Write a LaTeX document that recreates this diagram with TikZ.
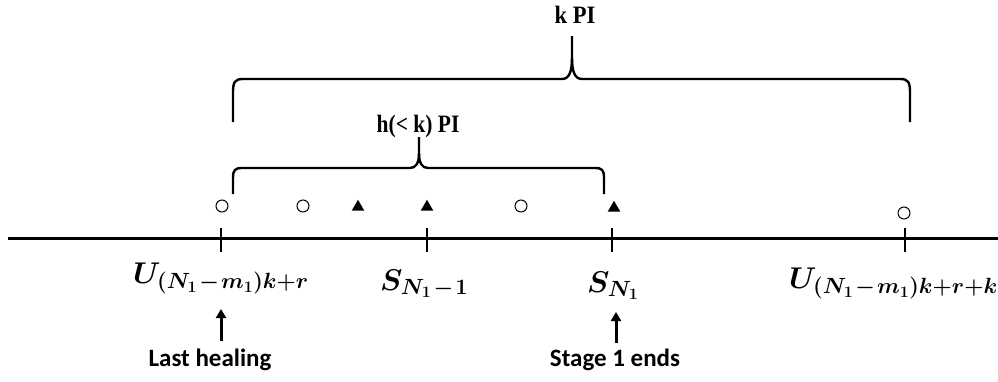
\RequirePackage{fix-cm}
\documentclass[tikz,border=0pt]{standalone}
\usepackage{fontspec}
\usepackage{amsmath}
\usepackage{graphicx}
\usetikzlibrary{shapes.geometric,arrows.meta}
\newfontfamily\calfont{Carlito}
\newfontfamily\timesfont{Liberation Serif}
\DeclareMathSizes{30}{30}{22}{16}
\newcommand{\smin}{\mkern1.5mu{-}\mkern1.5mu}
\begin{document}
\begin{tikzpicture}[x=1pt,y=-1pt,
  axisline/.style={line width=3pt},
  tickline/.style={line width=2.6pt},
  bracepath/.style={line width=2.4pt, line join=round},
  circmark/.style={circle, draw, line width=1pt, minimum size=12pt, inner sep=0pt},
  trimark/.style={regular polygon, regular polygon sides=3, fill=black, inner sep=0pt, minimum size=14.5pt},
  mathlabel/.style={inner sep=0pt, anchor=base west, font=\fontsize{30}{36}\selectfont\boldmath},
  notelabel/.style={inner sep=0pt, anchor=base, font=\calfont\bfseries\fontsize{25}{30}\selectfont},
  bracelabel/.style={inner sep=0pt, font=\timesfont\bfseries\fontsize{25}{30}\selectfont},
  uparrow/.style={line width=3pt, -{Triangle[length=9pt,width=10pt]}}
]
\useasboundingbox (0,0) rectangle (998,381);

% axis
\coordinate (axL) at (8,238);
\coordinate (axR) at (998,238);
\draw[axisline] (axL) -- (axR);

% ticks
\coordinate (t1) at (221,238);
\coordinate (t2) at (427,238);
\coordinate (t3) at (612,238);
\coordinate (t4) at (905,238);
\foreach \t in {t1,t2,t3,t4}
  \draw[tickline] (\t) ++(0,-10) -- ++(0,24);

% markers
\node[circmark] (c1) at (222,206) {};
\node[circmark] (c2) at (303,206) {};
\node[circmark] (c3) at (521,206) {};
\node[circmark] (c4) at (904,213) {};
\node[trimark] (tr1) at (358,207) {};
\node[trimark] (tr2) at (427,207) {};
\node[trimark] (tr3) at (614,208) {};

% outer brace
\draw[bracepath] (233,122) -- (233,92) .. controls (233,82) and (235,79) .. (243,79)
  -- (562,79) .. controls (569,79) and (572,72) .. (572,58) -- (572,36);
\draw[bracepath] (910,122) -- (910,92) .. controls (910,82) and (908,79) .. (900,79)
  -- (582,79) .. controls (575,79) and (572,72) .. (572,58);
\node[bracelabel] (kpi) at (575,15) {\scalebox{0.9}[1]{k PI}};

% inner brace
\draw[bracepath] (233,194) -- (233,178) .. controls (233,170) and (235,168) .. (242,168)
  -- (410,168) .. controls (416,168) and (419,163) .. (419,153) -- (419,137);
\draw[bracepath] (604,194) -- (604,178) .. controls (604,170) and (602,168) .. (595,168)
  -- (428,168) .. controls (422,168) and (419,163) .. (419,153);
\node[bracelabel] (hpi) at (418,126) {\scalebox{0.86}[1]{h(< k) PI}};

% axis labels
\node[mathlabel] (lu1) at (133,283) {$U_{(N_1\smin m_1)k+r}$};
\node[mathlabel] (ls1) at (380,290) {$S_{N_1\smin 1}$};
\node[mathlabel] (ls2) at (587,292) {$S_{N_1}$};
\node[mathlabel] (lu2) at (789,288) {$U_{(N_1\smin m_1)k+r+k}$};

% notes and arrows
\node[notelabel] (nlast) at (210,366) {Last healing};
\node[notelabel] (nstage) at (615,366) {Stage 1 ends};
\coordinate (a1s) at (221,341);
\coordinate (a1e) at (221,309);
\coordinate (a2s) at (616,343);
\coordinate (a2e) at (616,312);
\draw[uparrow] (a1s) -- (a1e);
\draw[uparrow] (a2s) -- (a2e);
\end{tikzpicture}
\end{document}
